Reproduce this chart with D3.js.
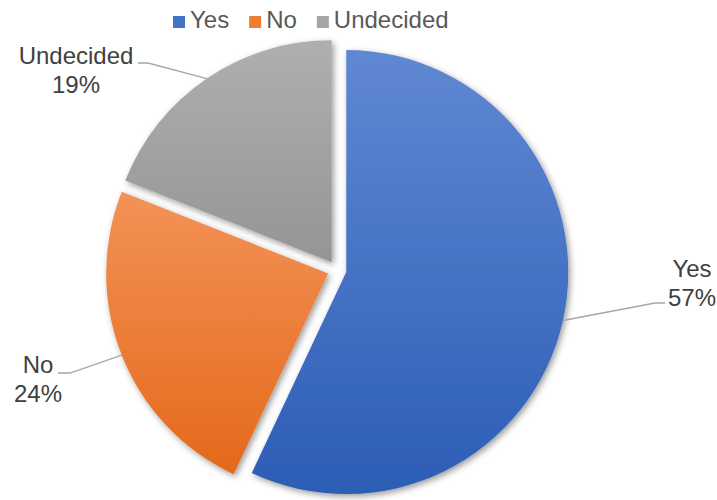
<!DOCTYPE html>
<html>
<head>
<meta charset="utf-8">
<script src="https://cdn.jsdelivr.net/npm/d3@7"></script>
<style>
  html, body { margin: 0; padding: 0; background: #ffffff; }
  svg { display: block; }
</style>
</head>
<body>
<svg id="chart" width="717" height="500"></svg>
<script>
// Survey answers
const categories = ["Yes", "No", "Undecided"];
const values = [57, 24, 19];

// Top / bottom colours of each slice's vertical gradient
const colorTop = ["#6088D2", "#F39257", "#AFAFAF"];
const colorBottom = ["#2C5DB6", "#E4691A", "#959595"];
const legendColors = ["#4472C4", "#ED7D31", "#A5A5A5"];

// Label placement: text centre, first baseline, leader elbow and end
const labelLayout = {
  "Yes":       { tx: 692, ty: 277, elbow: [655, 303], end: [665, 303] },
  "No":        { tx: 38,  ty: 373, elbow: [70, 373],  end: [58, 373] },
  "Undecided": { tx: 76,  ty: 64,  elbow: [148, 63],  end: [138, 63] }
};

const svg = d3.select("#chart");
const fontFamily = "'Liberation Sans', Arial, Helvetica, sans-serif";
const cx = 337, cy = 270, radius = 222, explode = 9.5;
const fontSize = 24;

const defs = svg.append("defs");
const shadow = defs.append("filter").attr("id", "shadow")
  .attr("x", "-20%").attr("y", "-20%").attr("width", "140%").attr("height", "140%");
shadow.append("feDropShadow")
  .attr("dx", 2).attr("dy", 2.5).attr("stdDeviation", 3)
  .attr("flood-color", "#000").attr("flood-opacity", 0.4);

categories.forEach((c, i) => {
  const g = defs.append("linearGradient").attr("id", "grad" + i)
    .attr("x1", 0).attr("y1", 0).attr("x2", 0).attr("y2", 1);
  g.append("stop").attr("offset", "0%").attr("stop-color", colorTop[i]);
  g.append("stop").attr("offset", "100%").attr("stop-color", colorBottom[i]);
});

const data = categories.map((c, i) => ({ category: c, value: values[i], index: i }));
const total = d3.sum(values);

const pie = d3.pie().value(d => d.value).sort(null).startAngle(0).endAngle(2 * Math.PI);
const arcs = pie(data);
const arc = d3.arc().innerRadius(0).outerRadius(radius);

const mid = a => (a.startAngle + a.endAngle) / 2;
const offsetOf = a => [explode * Math.sin(mid(a)), -explode * Math.cos(mid(a))];

const slices = svg.append("g").attr("transform", `translate(${cx},${cy})`);
slices.selectAll("path.slice")
  .data(arcs)
  .join("path")
  .attr("class", "slice")
  .attr("transform", a => { const o = offsetOf(a); return `translate(${o[0]},${o[1]})`; })
  .attr("d", arc)
  .attr("fill", a => `url(#grad${a.data.index})`)
  .attr("filter", "url(#shadow)");

// Leader lines and data labels
const labels = svg.append("g");
arcs.forEach(a => {
  const L = labelLayout[a.data.category];
  const o = offsetOf(a);
  const m = mid(a);
  const start = [cx + o[0] + radius * Math.sin(m), cy + o[1] - radius * Math.cos(m)];
  labels.append("path")
    .attr("d", d3.line()([start, L.elbow, L.end]))
    .attr("fill", "none")
    .attr("stroke", "#A6A6A6")
    .attr("stroke-width", 1.3);
  const t = labels.append("text")
    .attr("text-anchor", "middle")
    .attr("font-family", fontFamily)
    .attr("font-size", fontSize)
    .attr("fill", "#404040");
  t.append("tspan").attr("x", L.tx).attr("y", L.ty).text(a.data.category);
  t.append("tspan").attr("x", L.tx).attr("y", L.ty + 28.5)
    .text(d3.format(".0%")(a.data.value / total));
});

// Legend across the top
const legend = svg.append("g").attr("transform", "translate(173,0)");
let lx = 0;
categories.forEach((c, i) => {
  const item = legend.append("g").attr("transform", `translate(${lx},0)`);
  item.append("rect").attr("x", 0).attr("y", 16).attr("width", 12).attr("height", 12)
    .attr("fill", legendColors[i]);
  const txt = item.append("text").attr("x", 17).attr("y", 28)
    .attr("font-family", fontFamily)
    .attr("font-size", fontSize).attr("fill", "#595959").text(c);
  lx += 17 + txt.node().getComputedTextLength() + 20;
});
</script>
</body>
</html>
